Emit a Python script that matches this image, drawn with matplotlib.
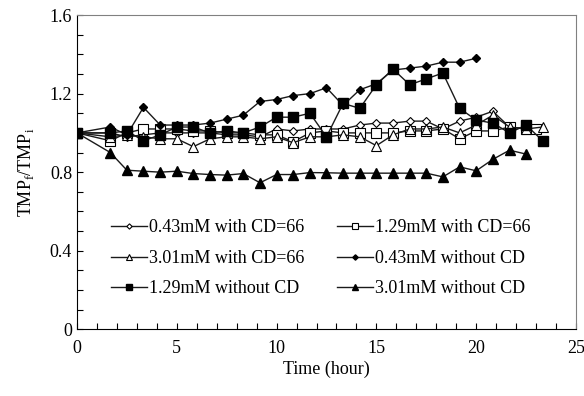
import matplotlib
matplotlib.use('Agg')
import matplotlib.pyplot as plt
from matplotlib.ticker import MultipleLocator

plt.rcParams['font.family'] = ['Liberation Serif', 'DejaVu Serif']
plt.rcParams['mathtext.fontset'] = 'custom'
plt.rcParams['mathtext.rm'] = 'Liberation Serif'

# sampling times (hour)
t = [0, 1.67, 2.5, 3.33, 4.17, 5.0, 5.83, 6.67, 7.5, 8.33, 9.17, 10.0, 10.83, 11.67,
     12.5, 13.33, 14.17, 15.0, 15.83, 16.67, 17.5, 18.33, 19.17, 20.0, 20.83, 21.67,
     22.5, 23.33]
t_sq_cd = t[:27] + [23.0]

# TMPf/TMPi, with CD=66
cd_043 = [1.00, 1.00, 0.98, 0.99, 1.00, 1.00, 1.00, 1.00, 0.99, 0.99, 0.98, 1.02, 1.01,
          1.02, 1.02, 1.02, 1.04, 1.05, 1.05, 1.06, 1.06, 1.02, 1.06, 1.08, 1.11, 1.03,
          1.02]
cd_129 = [1.00, 0.96, 1.00, 1.02, 1.02, 1.02, 1.01, 1.01, 1.00, 1.00, 0.99, 0.99, 0.955,
          1.00, 1.01, 1.00, 1.00, 1.00, 1.00, 1.01, 1.01, 1.02, 0.97, 1.01, 1.01, 1.03,
          1.02, 1.02]
cd_301 = [1.00, 0.98, 0.99, 0.98, 0.97, 0.97, 0.93, 0.97, 0.98, 0.98, 0.97, 0.98, 0.95,
          0.98, 0.98, 0.99, 0.98, 0.935, 0.99, 1.02, 1.02, 1.03, 1.00, 1.04, 1.09, 1.03,
          1.02, 1.03]

# TMPf/TMPi, without CD
no_043 = [1.00, 1.03, 0.99, 1.13, 1.04, 1.04, 1.04, 1.05, 1.07, 1.09, 1.16, 1.17, 1.19,
          1.20, 1.23, 1.14, 1.22, 1.25, 1.32, 1.33, 1.34, 1.36, 1.36, 1.38]
no_129 = [1.00, 1.00, 1.01, 0.96, 0.99, 1.03, 1.03, 1.00, 1.01, 1.00, 1.03, 1.08, 1.08,
          1.10, 0.98, 1.15, 1.125, 1.245, 1.325, 1.245, 1.275, 1.305, 1.125, 1.065,
          1.05, 1.00, 1.04, 0.96]
no_301 = [1.00, 0.90, 0.81, 0.805, 0.80, 0.805, 0.793, 0.788, 0.785, 0.793, 0.746, 0.788,
          0.788, 0.798, 0.797, 0.795, 0.795, 0.795, 0.795, 0.795, 0.795, 0.776, 0.827,
          0.807, 0.865, 0.912, 0.892]

fig = plt.figure(figsize=(5.84, 3.96), dpi=100)
ax = fig.add_axes([0.1318, 0.1684, 0.8545, 0.7936])

lc = '#1a1a1a'
h1, = ax.plot(t[:len(cd_043)], cd_043, '-', color=lc, lw=1, marker='D', ms=4.5,
              mfc='white', mec='black', mew=0.8, label='0.43mM with CD=66')
h2, = ax.plot(t_sq_cd, cd_129, '-', color=lc, lw=1, marker='s', ms=6.5,
              mfc='white', mec='black', mew=0.8, label='1.29mM with CD=66')
h3, = ax.plot(t[:len(cd_301)], cd_301, '-', color=lc, lw=1, marker='^', ms=6.5,
              mfc='white', mec='black', mew=0.8, label='3.01mM with CD=66')
h4, = ax.plot(t[:len(no_043)], no_043, '-', color=lc, lw=1, marker='D', ms=4.5,
              mfc='black', mec='black', label='0.43mM without CD')
h5, = ax.plot(t[:len(no_129)], no_129, '-', color=lc, lw=1, marker='s', ms=7,
              mfc='black', mec='black', label='1.29mM without CD')
h6, = ax.plot(t[:len(no_301)], no_301, '-', color=lc, lw=1, marker='^', ms=6.5,
              mfc='black', mec='black', label='3.01mM without CD')

ax.set_xlim(0, 25)
ax.set_ylim(0, 1.6)
ax.xaxis.set_major_locator(MultipleLocator(5))
ax.xaxis.set_minor_locator(MultipleLocator(1))
ax.yaxis.set_major_locator(MultipleLocator(0.4))
ax.yaxis.set_minor_locator(MultipleLocator(0.1))
ax.yaxis.set_major_formatter(lambda v, p: '0' if v == 0 else f'{v:.1f}')
ax.tick_params(which='both', direction='in', length=4, width=0.8, labelsize=13,
               top=False, right=False)
ax.tick_params(axis='x', pad=8)
ax.spines['top'].set_color('#808080')
ax.spines['right'].set_color('#808080')

ax.set_xlabel('Time (hour)', fontsize=13, labelpad=2)
ax.set_ylabel(r'TMP$_\mathregular{f}$/TMP$_\mathregular{i}$', fontsize=13, labelpad=10)

ax.legend(handles=[h1, h3, h5, h2, h4, h6], ncol=2, frameon=False, fontsize=13,
          loc='upper left', bbox_to_anchor=(0.068, 0.35), borderpad=0, borderaxespad=0,
          handlelength=2.0, handletextpad=0.1, columnspacing=1.8, labelspacing=0.75,
          markerscale=0.6)

fig.savefig('out.png', dpi=100)
